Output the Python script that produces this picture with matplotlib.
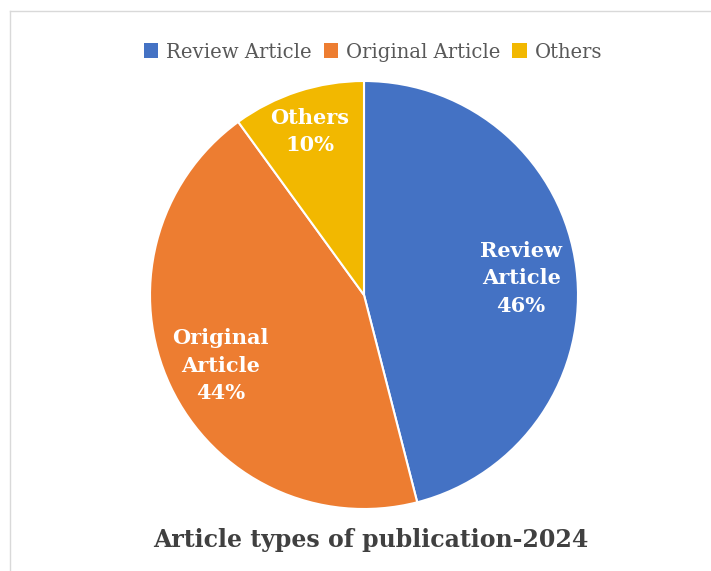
import matplotlib
matplotlib.use("Agg")
import matplotlib.pyplot as plt
import numpy as np
from matplotlib.lines import Line2D
from matplotlib.patches import Patch

categories = ["Review Article", "Original Article", "Others"]
values = [46, 44, 10]
label_texts = ["Review\nArticle\n46%", "Original\nArticle\n44%", "Others\n10%"]
colors = ["#4472C4", "#ED7D31", "#F2B800"]
title = "Article types of publication-2024"

W, H = 711, 571
fig = plt.figure(figsize=(W / 100, H / 100), dpi=100)
fig.patch.set_facecolor("white")

cx, cy, r = 364, 295, 214
ax = fig.add_axes([(cx - r) / W, (H - cy - r) / H, 2 * r / W, 2 * r / H])
wedges, _ = ax.pie(values, colors=colors, startangle=90, counterclock=False,
                   radius=1.0, wedgeprops=dict(edgecolor="white", linewidth=1.5))
ax.set_xlim(-1, 1)
ax.set_ylim(-1, 1)
ax.set_aspect("equal")
ax.axis("off")

font = "DejaVu Serif"
dists = [0.74, 0.74, 0.82]
for w, txt, d in zip(wedges, label_texts, dists):
    ang = np.deg2rad((w.theta1 + w.theta2) / 2)
    ax.text(d * np.cos(ang), d * np.sin(ang) - 0.015, txt, ha="center", va="center",
            color="white", fontsize=15, fontweight="bold", family=font,
            linespacing=1.45)

handles = [Patch(facecolor=c, edgecolor="none") for c in colors]
fig.legend(handles, categories, loc="center", bbox_to_anchor=(373 / W, 1 - 52 / H),
           ncol=3, frameon=False, handlelength=0.75, handleheight=0.75,
           handletextpad=0.4, columnspacing=0.6,
           prop=dict(family=font, size=14.1), labelcolor="#595959")

fig.text(371 / W, 1 - 540 / H, title, ha="center", va="center",
         fontsize=17, fontweight="bold", family=font, color="#404040")

fig.add_artist(Line2D([9.5 / W, 1], [1 - 10.5 / H, 1 - 10.5 / H],
                      transform=fig.transFigure, color="#D9D9D9", lw=1))
fig.add_artist(Line2D([9.5 / W, 9.5 / W], [1 - 10.5 / H, 0],
                      transform=fig.transFigure, color="#D9D9D9", lw=1))

fig.savefig("out.png", dpi=100)
